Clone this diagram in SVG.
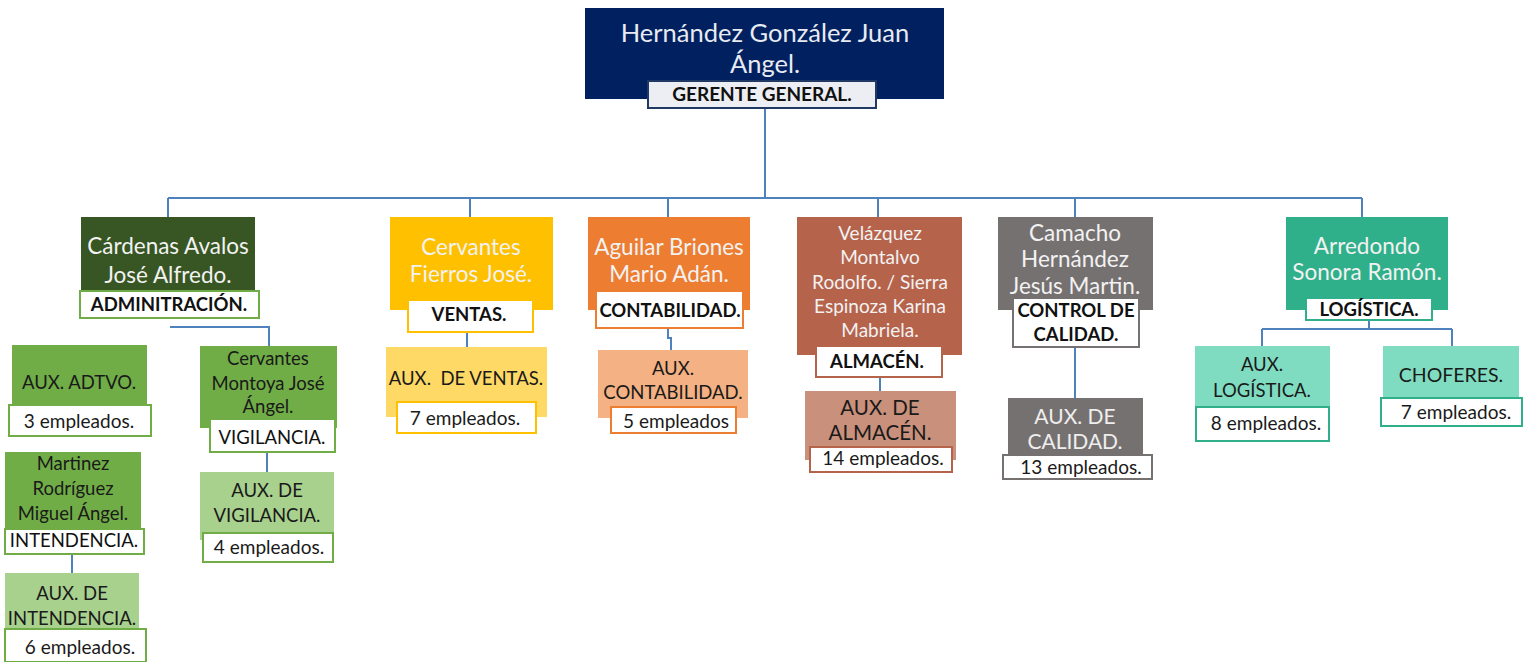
<svg xmlns="http://www.w3.org/2000/svg" width="1531" height="662" viewBox="0 0 1531 662">
<style>
text{font-family:Lato,"Open Sans","Liberation Sans",sans-serif;text-anchor:middle}
.n{fill:#f2f2f2;font-size:22.5px}
.ns{fill:#f2f2f2;font-size:19px}
.d{fill:#1a1a1a;font-size:18.5px}
.e{fill:#1a1a1a;font-size:19px}
.lb{fill:#111;font-size:18.5px;font-weight:bold}
.lr{fill:#111;font-size:18.5px}
.lab{fill:#fff;stroke-width:2}
.c{fill:none;stroke:#4f81bd;stroke-width:2}
</style>
<rect width="1531" height="662" fill="#fff"/>
<g id="connectors">
<path class="c" d="M765 108V198M168 198H1362M168 198V218M470 198V218M668 198V218M878 198V218M1075 198V218M1362 198V218"/>
<path class="c" d="M170 327H269V346"/>
<path class="c" d="M267 452V472"/>
<path class="c" d="M72 554V573"/>
<path class="c" d="M467 332V347"/>
<path class="c" d="M668 328V338H671V350"/>
<path class="c" d="M880 377V391"/>
<path class="c" d="M1075 347V398"/>
<path class="c" d="M1369 320V329M1262 329H1452M1262 329V346M1452 329V346"/>
</g>
<g id="gerente">
<rect x="585" y="8" width="359" height="91" fill="#002060"/>
<text x="765" y="42" style="fill:#e8ebf2;font-size:25.5px">Hernández González Juan</text>
<text x="765" y="73" style="fill:#e8ebf2;font-size:25.5px">Ángel.</text>
<rect x="648" y="81" width="228" height="27" fill="#eceef3" stroke="#1f3864" stroke-width="2"/>
<text class="lb" x="762" y="101" style="font-size:19px">GERENTE GENERAL.</text>
</g>
<g id="administracion">
<rect x="81" y="217" width="174" height="93" fill="#375623"/>
<text class="n" x="168" y="254">Cárdenas Avalos</text>
<text class="n" x="168" y="283">José Alfredo.</text>
<rect class="lab" x="80" y="291" width="179" height="27" stroke="#70ad47"/>
<text class="lb" x="169" y="311">ADMINITRACIÓN.</text>
</g>
<g id="aux-adtvo">
<rect x="12" y="345" width="135" height="62" fill="#70ad47"/>
<text class="d" x="79" y="389">AUX. ADTVO.</text>
<rect class="lab" x="9" y="405" width="142" height="31" stroke="#70ad47"/>
<text class="e" x="79" y="428">3 empleados.</text>
</g>
<g id="vigilancia">
<rect x="200" y="346" width="137" height="82" fill="#70ad47"/>
<text class="d" x="268" y="365">Cervantes</text>
<text class="d" x="268" y="390">Montoya José</text>
<text class="d" x="268" y="413">Ángel.</text>
<rect class="lab" x="210" y="419" width="125" height="33" stroke="#70ad47"/>
<text class="lr" x="272" y="444">VIGILANCIA.</text>
</g>
<g id="aux-vigilancia">
<rect x="200" y="472" width="134" height="68" fill="#a9d18e"/>
<text class="d" x="267" y="497">AUX. DE</text>
<text class="d" x="267" y="522">VIGILANCIA.</text>
<rect class="lab" x="203" y="533" width="130" height="29" stroke="#70ad47"/>
<text class="e" x="269" y="554">4 empleados.</text>
</g>
<g id="intendencia">
<rect x="5" y="452" width="136" height="76" fill="#70ad47"/>
<text class="d" x="73" y="470">Martinez</text>
<text class="d" x="73" y="495">Rodríguez</text>
<text class="d" x="73" y="520">Miguel Ángel.</text>
<rect class="lab" x="5" y="529" width="139" height="25" stroke="#70ad47"/>
<text class="lr" x="74" y="547">INTENDENCIA.</text>
</g>
<g id="aux-intendencia">
<rect x="5" y="573" width="134" height="57" fill="#a9d18e"/>
<text class="d" x="72" y="600">AUX. DE</text>
<text class="d" x="72" y="625">INTENDENCIA.</text>
<rect class="lab" x="5" y="629" width="141" height="33" stroke="#70ad47"/>
<text class="e" x="80" y="654">6 empleados.</text>
</g>
<g id="ventas">
<rect x="390" y="217" width="163" height="93" fill="#ffc000"/>
<text class="n" x="471" y="255">Cervantes</text>
<text class="n" x="471" y="282">Fierros José.</text>
<rect class="lab" x="408" y="300" width="125" height="32" stroke="#ffc000"/>
<text class="lb" x="469" y="321">VENTAS.</text>
</g>
<g id="aux-ventas">
<rect x="386" y="347" width="161" height="70" fill="#ffd966"/>
<text class="d" x="466" y="385" xml:space="preserve">AUX.  DE VENTAS.</text>
<rect class="lab" x="397" y="402" width="139" height="31" stroke="#ffc000"/>
<text class="e" x="465" y="425">7 empleados.</text>
</g>
<g id="contabilidad">
<rect x="588" y="217" width="162" height="93" fill="#ed7d31"/>
<text class="n" x="669" y="255">Aguilar Briones</text>
<text class="n" x="669" y="282">Mario Adán.</text>
<rect class="lab" x="596" y="291" width="147" height="37" stroke="#ed7d31"/>
<text class="lb" x="670" y="317">CONTABILIDAD.</text>
</g>
<g id="aux-contabilidad">
<rect x="598" y="350" width="150" height="68" fill="#f4b183"/>
<text class="d" x="673" y="375">AUX.</text>
<text class="d" x="673" y="399">CONTABILIDAD.</text>
<rect class="lab" x="611" y="407" width="125" height="26" stroke="#ed7d31"/>
<text class="e" x="676" y="428">5 empleados</text>
</g>
<g id="almacen">
<rect x="797" y="217" width="165" height="138" fill="#b6634b"/>
<text class="ns" x="880" y="240">Velázquez</text>
<text class="ns" x="880" y="264">Montalvo</text>
<text class="ns" x="880" y="289">Rodolfo. / Sierra</text>
<text class="ns" x="880" y="313">Espinoza Karina</text>
<text class="ns" x="880" y="337">Mabriela.</text>
<rect class="lab" x="816" y="346" width="126" height="31" stroke="#b6634b"/>
<text class="lb" x="877" y="368">ALMACÉN.</text>
</g>
<g id="aux-almacen">
<rect x="805" y="391" width="151" height="69" fill="#c9907b"/>
<text x="880" y="415" style="fill:#1a1a1a;font-size:20.5px">AUX. DE</text>
<text x="880" y="440" style="fill:#1a1a1a;font-size:20.5px">ALMACÉN.</text>
<rect class="lab" x="810" y="447" width="142" height="25" stroke="#b6634b"/>
<text class="e" x="883" y="465">14 empleados.</text>
</g>
<g id="calidad">
<rect x="998" y="217" width="155" height="93" fill="#767171"/>
<text class="n" x="1075" y="241">Camacho</text>
<text class="n" x="1075" y="267">Hernández</text>
<text class="n" x="1075" y="294">Jesús Martin.</text>
<rect class="lab" x="1013" y="298" width="126" height="49" stroke="#767171"/>
<text class="lb" x="1076" y="317">CONTROL DE</text>
<text class="lb" x="1076" y="341">CALIDAD.</text>
</g>
<g id="aux-calidad">
<rect x="1008" y="398" width="135" height="65" fill="#767171"/>
<text x="1075" y="424" style="fill:#eeeeee;font-size:21px">AUX. DE</text>
<text x="1075" y="449" style="fill:#eeeeee;font-size:21px">CALIDAD.</text>
<rect class="lab" x="1003" y="455" width="149" height="24" stroke="#767171"/>
<text class="e" x="1081" y="474">13 empleados.</text>
</g>
<g id="logistica">
<rect x="1286" y="217" width="162" height="93" fill="#30b08a"/>
<text class="n" x="1367" y="254">Arredondo</text>
<text class="n" x="1367" y="280">Sonora Ramón.</text>
<rect class="lab" x="1306" y="298" width="126" height="22" stroke="#30b08a"/>
<text class="lb" x="1369" y="316">LOGÍSTICA.</text>
</g>
<g id="aux-logistica">
<rect x="1195" y="346" width="135" height="61" fill="#80dcc1"/>
<text class="d" x="1262" y="371">AUX.</text>
<text class="d" x="1262" y="397">LOGÍSTICA.</text>
<rect class="lab" x="1196" y="407" width="133" height="34" stroke="#30b08a"/>
<text class="e" x="1266" y="430">8 empleados.</text>
</g>
<g id="choferes">
<rect x="1383" y="346" width="136" height="52" fill="#80dcc1"/>
<text class="d" x="1451" y="382" style="font-size:19.5px">CHOFERES.</text>
<rect class="lab" x="1381" y="398" width="141" height="28" stroke="#30b08a"/>
<text class="e" x="1456" y="419">7 empleados.</text>
</g>
</svg>
